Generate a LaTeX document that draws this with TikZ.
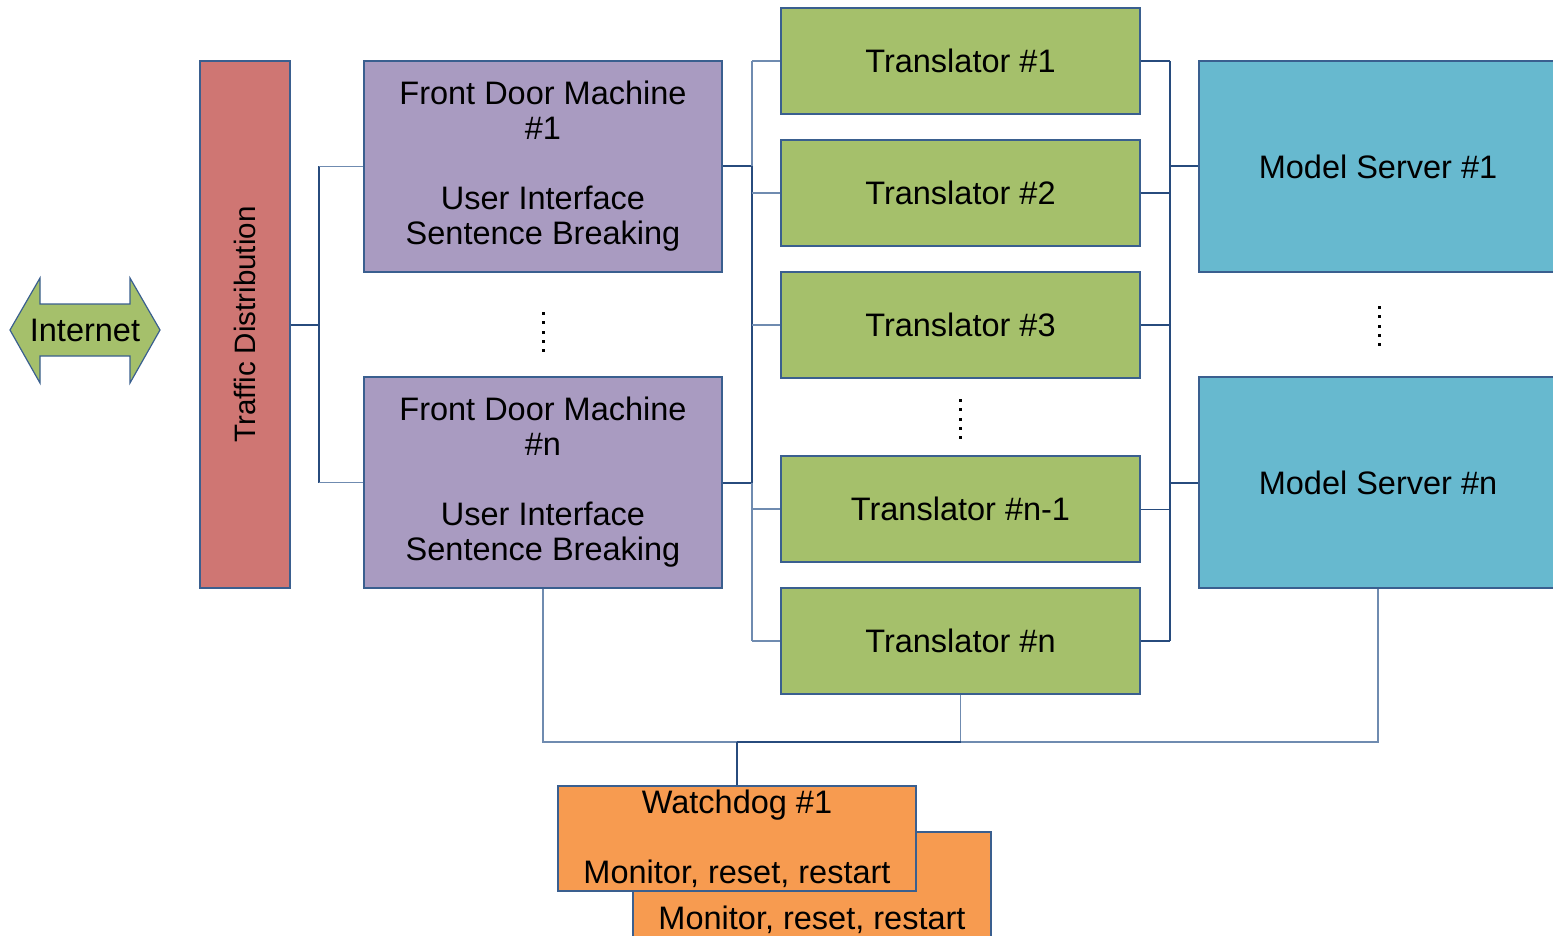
\documentclass[tikz,border=0pt]{standalone}
\usepackage{fontspec}
\setmainfont{Liberation Sans}

\definecolor{edgeblue}{HTML}{3A5F8F}
\definecolor{wireblue}{HTML}{274B7D}
\definecolor{wirelight}{HTML}{6F8BB0}
\definecolor{trafred}{HTML}{CF7673}
\definecolor{doorpurple}{HTML}{A99BC1}
\definecolor{transgreen}{HTML}{A5C06B}
\definecolor{serverblue}{HTML}{67B9CF}
\definecolor{dogorange}{HTML}{F79B50}

\tikzset{
    box/.style={draw=edgeblue, line width=1.2pt, inner sep=0pt, align=center,
        font=\fontsize{32.5}{35}\selectfont},
    doorbox/.style={box, fill=doorpurple, minimum width=358, minimum height=211},
    transbox/.style={box, fill=transgreen, minimum width=359, minimum height=106},
    serverbox/.style={box, fill=serverblue, minimum width=358, minimum height=211},
    dogbox/.style={box, fill=dogorange, minimum width=358, minimum height=105},
    trunk/.style={draw=wireblue, line width=2pt},
    branch/.style={draw=wirelight, line width=1.3pt}
}

\begin{document}
\begin{tikzpicture}[x=1pt, y=-1pt]
    \useasboundingbox (0,0) rectangle (1553,936);
    \clip (0,0) rectangle (1553,936);

    % Internet
    \filldraw[fill=transgreen, draw=edgeblue, line width=1.2pt]
        (10,330) -- (40,278) -- (40,304) -- (130,304) -- (130,278) -- (160,330)
        -- (130,383) -- (130,356) -- (40,356) -- (40,383) -- cycle;
    \node[font=\fontsize{32.5}{35}\selectfont] (inet) at (85,330) {Internet};

    % Verteiler
    \node[box, fill=trafred, minimum width=90, minimum height=527,
        font=\fontsize{29.5}{35}\selectfont] (trafd) at (245,324.5)
        {\rotatebox{90}{Traffic Distribution}};

    % Front Door
    \node[doorbox] (fdone) at (543,166.5) {Front Door Machine\\\#1\\\strut\\User Interface\\Sentence Breaking};
    \node[doorbox] (fdn) at (543,482.5) {Front Door Machine\\\#n\\\strut\\User Interface\\Sentence Breaking};

    % Translator
    \node[transbox] (tone) at (960.5,61) {Translator \#1};
    \node[transbox] (ttwo) at (960.5,193) {Translator \#2};
    \node[transbox] (tthree) at (960.5,325) {Translator \#3};
    \node[transbox] (tnm) at (960.5,509) {Translator \#n-1};
    \node[transbox] (tn) at (960.5,641) {Translator \#n};

    % Model Server
    \node[serverbox] (msone) at (1378,166.5) {Model Server \#1};
    \node[serverbox] (msn) at (1378,482.5) {Model Server \#n};

    % Watchdog
    \node[dogbox] (wdback) at (812,884.5) {\strut\\\strut\\Monitor, reset, restart};
    \node[dogbox] (wdone) at (737,838.5) {Watchdog \#1\\\strut\\Monitor, reset, restart};

    % Punkte
    \foreach \px/\py in {543/312, 960/399, 1379/306}
        \foreach \k in {0,...,4}
            \fill (\px-1.5,\py+\k*9.3) rectangle ++(3,3);

    % Leitungen
    \coordinate (busa) at (319,0);
    \coordinate (busb) at (752,0);
    \coordinate (busc) at (1170,0);
    \coordinate (busd) at (0,742);

    \draw[trunk] (trafd.east) -- (trafd.east -| busa);
    \draw[trunk] (fdone.west -| busa) -- (fdn.west -| busa);
    \draw[branch] (fdone.west -| busa) -- (fdone.west);
    \draw[branch] (fdn.west -| busa) -- (fdn.west);

    \draw[trunk] (fdone.east) -- (fdone.east -| busb);
    \draw[trunk] (fdn.east) -- (fdn.east -| busb);
    \draw[trunk] (fdone.east -| busb) -- (fdn.east -| busb);
    \draw[branch] (tone.west -| busb) -- (fdone.east -| busb);
    \draw[branch] (fdn.east -| busb) -- (tn.west -| busb);
    \foreach \t in {tone, ttwo, tthree, tnm, tn}
        \draw[branch] (\t.west -| busb) -- (\t.west);

    \foreach \t in {tone, ttwo, tthree, tn}
        \draw[trunk] (\t.east) -- (\t.east -| busc);
    \draw[draw=wireblue, line width=1pt] (tnm.east) -- (tnm.east -| busc);
    \draw[trunk] (tone.east -| busc) -- (tn.east -| busc);
    \draw[trunk] (msone.west -| busc) -- (msone.west);
    \draw[trunk] (msn.west -| busc) -- (msn.west);

    \draw[branch] (fdn.south) -- (fdn.south |- busd) -- (msn.south |- busd) -- (msn.south);
    \draw[branch] (tn.south) -- (tn.south |- busd);
    \draw[trunk] (wdone.north |- busd) -- (tn.south |- busd);
    \draw[trunk] (wdone.north) -- (wdone.north |- busd);
\end{tikzpicture}
\end{document}
